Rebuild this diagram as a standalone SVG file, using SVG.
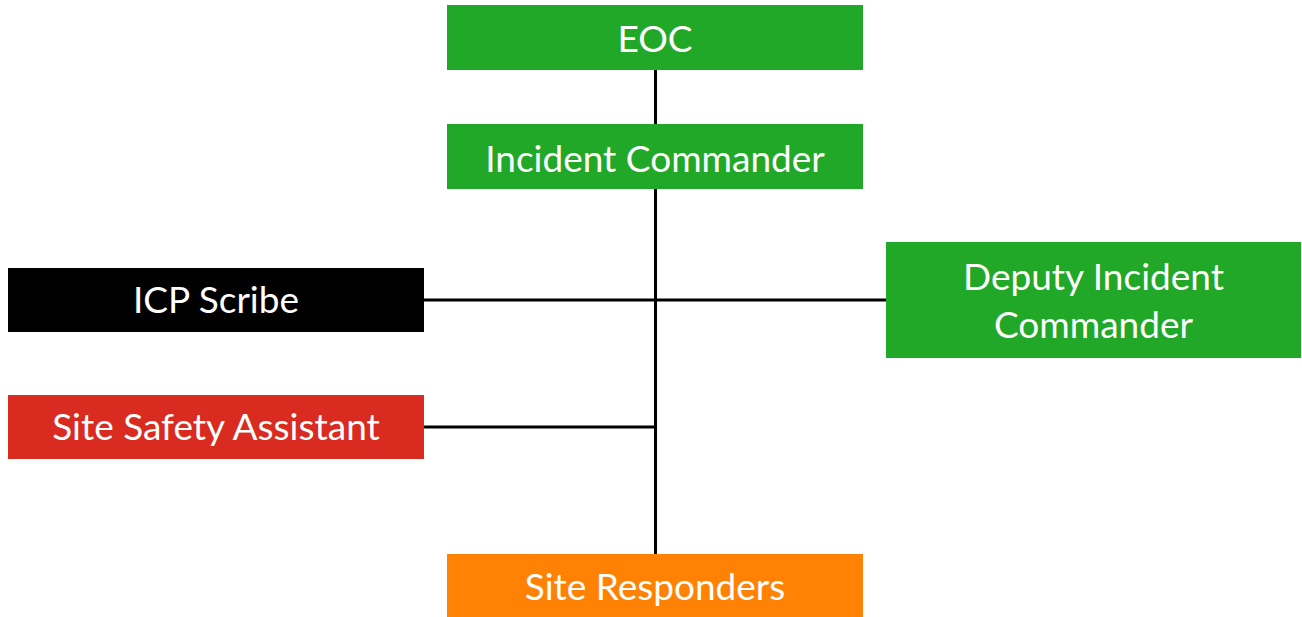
<svg xmlns="http://www.w3.org/2000/svg" width="1302" height="617" viewBox="0 0 1302 617">
<style>
.lbl{font-family:"Lato","Liberation Sans",sans-serif;font-size:37px;fill:#fff;text-anchor:middle}
.green{fill:#21A828}
.red{fill:#D92B20}
.orange{fill:#FF8205}
.black{fill:#000}
.conn{stroke:#000;stroke-width:3;fill:none}
</style>
<rect width="1302" height="617" fill="#fff"/>
<g id="connectors">
<line class="conn" x1="655.5" y1="70" x2="655.5" y2="124"/>
<line class="conn" x1="655.5" y1="189" x2="655.5" y2="554"/>
<line class="conn" x1="424" y1="300" x2="886" y2="300"/>
<line class="conn" x1="424" y1="427" x2="656" y2="427"/>
</g>
<g id="eoc">
<rect class="green" x="447" y="5" width="416" height="65"/>
<text class="lbl" x="655" y="52">EOC</text>
</g>
<g id="incident-commander">
<rect class="green" x="447" y="124" width="416" height="65"/>
<text class="lbl" x="655" y="172">Incident Commander</text>
</g>
<g id="icp-scribe">
<rect class="black" x="8" y="268" width="416" height="64"/>
<text class="lbl" x="216" y="313">ICP Scribe</text>
</g>
<g id="deputy-incident-commander">
<rect class="green" x="886" y="242" width="415" height="116"/>
<text class="lbl" x="1093.5" y="290">Deputy Incident</text>
<text class="lbl" x="1093.5" y="338">Commander</text>
</g>
<g id="site-safety-assistant">
<rect class="red" x="8" y="395" width="416" height="64"/>
<text class="lbl" x="216" y="440">Site Safety Assistant</text>
</g>
<g id="site-responders">
<rect class="orange" x="447" y="554" width="416" height="63"/>
<text class="lbl" x="655" y="600">Site Responders</text>
</g>
</svg>
